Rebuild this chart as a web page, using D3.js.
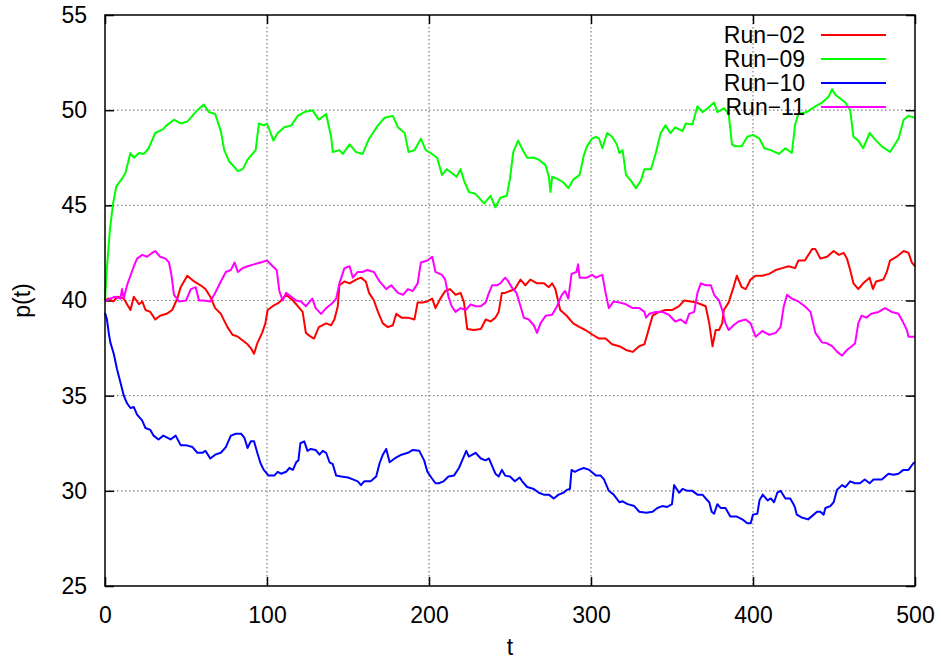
<!DOCTYPE html>
<html>
<head>
<meta charset="utf-8">
<script src="https://cdn.jsdelivr.net/npm/d3@7"></script>
<style>
  body { margin: 0; background: #fff; }
  svg text { font-family: "Liberation Sans", Arial, sans-serif; fill: #000; }
</style>
</head>
<body>
<div id="chart"></div>
<script>
// dati: [t, p(t)]
const run02 = [[0,40],[2,40.1],[5,39.95],[8,40.2],[11.6,40.1],[13.6,39.8],[15.7,39.5],[17.8,40.2],[21,39.8],[23,39.95],[25,39.5],[28,39.4],[31,39.0],[34,39.2],[38,39.3],[41.5,39.5],[44.6,40.1],[46.7,40.7],[50.8,41.3],[55,41.0],[59,40.8],[62,40.6],[65,40.2],[68,39.6],[71.5,39.3],[75.6,38.6],[78.7,38.2],[82,38.1],[85,37.9],[88,37.7],[90,37.5],[92,37.2],[94,37.75],[97,38.3],[99,38.8],[100.4,39.5],[103.5,39.7],[107.6,39.9],[111.8,40.3],[116,40.0],[119,39.7],[122,39.4],[124,38.3],[127,38.1],[129,38.0],[132,38.6],[136.5,38.8],[139.6,38.7],[141.6,39.0],[143.7,39.7],[144.7,40.8],[147.8,41.0],[151,40.9],[155,41.1],[158,41.2],[161,41.0],[163,40.4],[166,40.0],[168.5,39.4],[171.5,38.8],[174.6,38.6],[177.7,38.7],[179.8,39.3],[183,39.1],[187,39.1],[191,39.0],[193,39.9],[196,39.9],[199,39.95],[202,40.1],[204,39.6],[207,40.1],[210,40.5],[213,40.6],[216.4,40.3],[219.5,40.4],[221.6,39.9],[223.6,38.5],[227.7,38.45],[232,38.5],[235,39.0],[238,38.9],[241,39.1],[243,39.4],[245,40.4],[247,40.4],[250,40.5],[253,40.6],[256.5,41.1],[259.5,40.8],[262.6,41.1],[266.7,40.9],[271,40.9],[274,40.7],[276,40.9],[278,40.6],[281,39.5],[285,39.2],[289,38.8],[293,38.6],[296.5,38.45],[301,38.2],[305,38.0],[309,38.0],[313,37.7],[317.5,37.6],[321.6,37.4],[325.7,37.3],[329.8,37.6],[333,37.7],[336,38.6],[338,39.2],[342,39.4],[346,39.5],[350,39.5],[354.4,39.7],[357.5,40.0],[361.6,39.95],[364.7,39.9],[367.8,39.8],[370.8,39.7],[373,38.8],[375,37.6],[377,38.45],[379,38.45],[381,38.8],[382,39.5],[385,39.9],[388,40.7],[390,41.3],[393,40.7],[395.5,40.6],[398.5,41.1],[401.6,41.3],[405.7,41.3],[410,41.4],[414,41.6],[418,41.7],[422,41.8],[426,41.7],[428,42.1],[432,42.1],[436.5,42.7],[438.5,42.7],[441.6,42.2],[445.7,42.3],[449.8,42.6],[453,42.4],[456,42.5],[458,42.2],[460,41.6],[462,40.9],[465,40.6],[468,40.9],[472,41.2],[474,40.6],[476,41.0],[480.5,41.1],[482.6,41.5],[484.6,42.1],[488.7,42.3],[493,42.6],[496,42.5],[498,42.0],[500,41.8]];

const run09 = [[0,40],[1,41.5],[3,43.7],[5,45.1],[7,46.0],[10.5,46.4],[12.6,46.7],[15.7,47.75],[17.8,47.5],[21,47.75],[24,47.7],[27,48.0],[31,48.8],[36,49.0],[38,49.2],[42.6,49.5],[46.7,49.3],[50.8,49.4],[57,50.0],[61,50.3],[64,49.9],[68,49.8],[71.5,48.9],[73.6,47.9],[76.7,47.3],[80,47.0],[82,46.8],[85,46.9],[88,47.4],[93,47.9],[95,49.3],[98,49.2],[100,49.3],[104,48.4],[106.6,48.8],[110.7,49.1],[115,49.2],[119,49.7],[123,49.9],[128,50.0],[132,49.5],[136.5,49.8],[139.6,48.6],[140.6,47.8],[144.7,47.9],[146.8,47.7],[151,48.2],[155,47.8],[159,47.7],[163,48.5],[168.5,49.2],[172.6,49.6],[177.7,49.7],[180.8,49.1],[185,48.8],[187.4,47.8],[191,47.9],[195,48.5],[198,47.9],[201,47.75],[205,47.5],[208,46.6],[211,46.9],[214,46.7],[217,46.5],[219.5,46.9],[221.6,46.3],[224.6,45.7],[228.7,45.6],[234,45.1],[238,45.5],[241,44.9],[244,45.4],[248,45.5],[250,46.4],[252,47.8],[255,48.4],[258.5,47.8],[260.6,47.5],[264.7,47.5],[267.8,47.4],[272,47.1],[274,46.5],[275,45.7],[276,46.5],[279,46.4],[283,46.2],[286,45.9],[289,46.35],[293,46.6],[295.5,47.6],[297.5,48.1],[300.6,48.5],[303,48.6],[305,48.5],[307,48.0],[310,48.8],[313,48.6],[316,48.2],[317.5,47.75],[319.5,47.9],[321.6,46.6],[324.6,46.3],[327.7,45.9],[330.8,46.3],[333,46.9],[337,46.9],[340,47.75],[343,48.8],[346,49.2],[349,48.8],[352,49.1],[356.5,48.9],[358.5,49.3],[362.6,49.25],[365.7,50.2],[368.8,49.9],[372,50.1],[376,50.4],[378,49.9],[382,50.1],[385,49.8],[387,48.2],[389,48.1],[393,48.1],[396.5,48.6],[400,48.7],[404,48.5],[407,48.0],[411,47.9],[416,47.7],[420,48.0],[424,47.75],[426,49.25],[428,49.8],[433,49.9],[438.5,50.2],[442.6,50.4],[446.7,50.7],[448.8,51.1],[451,50.8],[457,50.4],[460,50.0],[462,48.6],[465,48.4],[468,48.0],[472,48.8],[476,48.4],[479.5,48.1],[484.6,47.8],[489.8,48.5],[493,49.5],[496,49.7],[500,49.6]];

const run10 = [[0,39.35],[1.2,39.0],[2.3,38.3],[3.3,37.8],[5.4,37.2],[7.4,36.4],[9.5,35.7],[11.6,35.0],[13.6,34.6],[15.7,34.35],[17.8,34.4],[19.8,34.0],[22.9,33.7],[25,33.3],[28,33.2],[30,32.9],[33,32.7],[36,32.9],[38.4,32.8],[40.5,32.7],[43.6,32.9],[46.7,32.4],[49.8,32.4],[54,32.3],[57,32.0],[60,32.0],[62,32.1],[65,31.7],[68,31.9],[71.5,32.0],[74.6,32.3],[77.7,32.9],[80.8,33.0],[84,33.0],[86,32.8],[88,32.25],[90,32.6],[92,32.6],[94,32.0],[96,31.45],[98,31.1],[101,30.8],[104.5,30.8],[106.6,31.0],[108.7,30.9],[111.8,31.0],[113.8,31.2],[116,31.1],[118,31.5],[119.4,31.6],[120.6,32.5],[123,32.6],[125,32.1],[127,32.2],[130,32.15],[132.4,31.9],[134.4,32.1],[136.5,32.0],[138.6,31.5],[140.6,31.4],[142.7,30.8],[145.8,30.75],[150,30.7],[153,30.6],[156,30.5],[158,30.3],[160,30.5],[164,30.5],[167.4,30.75],[169.5,31.45],[171.5,31.9],[173.6,32.2],[175.7,31.5],[178.8,31.7],[183,31.9],[187,32.0],[190,32.15],[194,32.1],[197,31.6],[199,31.0],[201.4,30.7],[204,30.4],[206,30.4],[209,30.5],[212,30.75],[215.4,30.8],[218.5,31.2],[220.5,31.6],[223,32.1],[224.6,31.8],[228.7,32.0],[232,31.7],[235,31.6],[237,31.7],[239,31.3],[241,30.9],[243,30.75],[245,31.1],[247,30.8],[250,30.75],[253,30.5],[256,30.7],[257.5,30.5],[260.6,30.2],[264.7,30.1],[267.8,29.9],[270.8,29.8],[274,29.8],[277,29.6],[280,29.8],[283,29.9],[285,30.05],[287,30.1],[288,31.1],[290,31.0],[292.4,31.1],[295.5,31.2],[299,31.1],[303,30.8],[306,30.8],[308,30.6],[311,30.0],[314,29.8],[317.5,29.4],[319.5,29.45],[322.6,29.3],[326.7,29.2],[329.8,28.9],[334,28.85],[338,28.9],[341,29.1],[344,29.2],[347,29.15],[350,29.3],[351.3,30.3],[354.4,29.9],[356.5,30.1],[359.5,30.0],[362.6,30.0],[365.7,29.8],[368.8,29.8],[370.8,29.6],[373,29.4],[374.5,28.9],[376,28.8],[378,29.3],[380,29.1],[383,29.1],[386,28.65],[390,28.65],[393.4,28.5],[396.5,28.3],[398.6,28.3],[400,28.75],[402.7,28.8],[404,29.5],[406,29.8],[409,29.5],[411,29.6],[413,29.4],[415,29.9],[417,30.0],[420,29.6],[423,29.6],[425,29.3],[426,29.1],[427,28.75],[430,28.6],[434,28.5],[437.5,28.75],[439.5,28.9],[441.6,28.9],[443.6,28.75],[444.7,29.1],[447.7,29.2],[449.8,29.4],[451.8,30.05],[455,30.3],[457,30.2],[460,30.5],[463,30.4],[466,30.4],[469,30.6],[472,30.4],[474.4,30.6],[479.5,30.6],[483.6,30.9],[486.7,30.85],[489.8,30.9],[492.8,31.1],[496,31.1],[499,31.45],[500,31.5]];

const run11 = [[0,40],[1,40.0],[3,40.1],[6.4,40.2],[9.5,40.1],[10.5,40.6],[11.6,40.1],[13.6,40.8],[15.7,41.3],[17.8,41.8],[19.8,42.2],[23,42.4],[26,42.3],[29,42.5],[31,42.6],[34,42.3],[37.4,42.2],[39.5,42.0],[41,41.35],[42.6,40.3],[45.7,39.95],[50,40.0],[53,40.6],[56,40.7],[58,40.0],[61,40.0],[65,39.95],[68,40.4],[71.5,41.0],[74.6,41.5],[77.7,41.6],[80,42.0],[82,41.5],[85,41.7],[88,41.8],[92,41.9],[96,42.0],[100,42.1],[103.5,41.8],[106,41.6],[107.6,40.5],[109.7,40.0],[111.8,40.4],[115,40.2],[118,40.0],[121,39.95],[124,39.7],[128,40.1],[130,39.6],[133.4,39.3],[136.5,39.6],[139.6,39.8],[142.7,40.1],[144.7,40.9],[147.8,41.7],[151,41.8],[153,41.2],[156,41.5],[159,41.5],[162,41.6],[166,41.5],[169.5,41.0],[173.6,40.6],[176.7,40.8],[180.8,40.4],[184,40.3],[187,40.6],[190,40.5],[193,40.9],[195,42.0],[199,42.1],[202,42.3],[204,41.5],[208,41.35],[210,41.1],[212,40.2],[214,39.7],[216.4,39.4],[219.5,39.6],[222.6,39.5],[225.7,39.8],[228.7,39.7],[232,39.7],[235,39.9],[237,40.4],[239,40.8],[242,40.8],[244,40.9],[247,41.2],[249,41.0],[251,40.7],[254,40.4],[256.5,39.7],[258.5,39.1],[261.6,39.0],[264.7,38.7],[266.7,38.3],[268.8,38.8],[272,39.2],[276,39.25],[279,39.7],[282,40.3],[284,40.5],[286,40.1],[288,41.4],[291,41.5],[292,41.9],[293,41.2],[297.5,41.2],[300.6,41.35],[303,41.2],[307,41.35],[309,40.4],[311,39.6],[314,39.95],[317.5,39.9],[321.6,39.8],[325.7,39.6],[329.8,39.6],[333,39.4],[334,39.1],[336,39.3],[340,39.4],[344,39.4],[348,39.25],[352,38.9],[355.4,39.0],[358.5,38.8],[360.6,39.3],[363.7,39.4],[365.7,40.4],[367.8,40.9],[370.8,40.8],[374,40.8],[376,40.3],[379,40.0],[381,39.5],[383,38.8],[385,38.45],[388,38.7],[391,38.9],[395.5,39.0],[398.5,38.8],[401.6,38.1],[405.7,38.4],[410,38.2],[414,38.3],[417,38.6],[419,39.7],[421,40.3],[424,40.1],[428,39.95],[432,39.7],[435.5,39.4],[438.5,38.3],[442.6,37.8],[445.7,37.75],[448.8,37.6],[452,37.3],[455,37.1],[458,37.4],[461,37.6],[463,37.75],[465,38.8],[467,39.2],[470,39.1],[473,39.3],[477.5,39.4],[481.5,39.6],[485.7,39.4],[489.8,39.3],[493,38.8],[495,38.45],[496,38.1],[500,38.1]];

const seriesNames = ['Run\u221202', 'Run\u221209', 'Run\u221210', 'Run\u221211'];
const seriesColors = ['#ff0000', '#00ff00', '#0000ff', '#ff00ff'];
const seriesData = [run02, run09, run10, run11];

const xTicks = [0, 100, 200, 300, 400, 500];
const yTicks = [25, 30, 35, 40, 45, 50, 55];

const W = 941, H = 660;
const margin = { top: 15, right: 26, bottom: 74, left: 105 };
const width = W - margin.left - margin.right;
const height = H - margin.top - margin.bottom;
const fontSize = 23;

const svg = d3.select('#chart').append('svg')
    .attr('width', W)
    .attr('height', H);

const g = svg.append('g')
    .attr('transform', `translate(${margin.left},${margin.top})`);

const x = d3.scaleLinear().domain([0, 500]).range([0, width]);
const y = d3.scaleLinear().domain([25, 55]).range([height, 0]);

// griglia tratteggiata
g.append('g')
    .selectAll('line')
    .data(xTicks.slice(1, -1))
    .join('line')
    .attr('x1', d => x(d)).attr('x2', d => x(d))
    .attr('y1', 0).attr('y2', height)
    .attr('stroke', '#808080').attr('stroke-width', 1.2)
    .attr('stroke-dasharray', '1.5,2.5');

g.append('g')
    .selectAll('line')
    .data(yTicks.slice(1, -1))
    .join('line')
    .attr('x1', 0).attr('x2', width)
    .attr('y1', d => y(d)).attr('y2', d => y(d))
    .attr('stroke', '#808080').attr('stroke-width', 1.2)
    .attr('stroke-dasharray', '1.5,2.5');

// assi (tick verso l'interno, speculari)
const tickLen = 9;
g.append('g')
    .attr('transform', `translate(0,${height})`)
    .call(d3.axisBottom(x).tickValues(xTicks).tickSizeInner(-tickLen).tickSizeOuter(0).tickPadding(tickLen + 12))
    .call(a => a.select('.domain').remove());
g.append('g')
    .call(d3.axisTop(x).tickValues(xTicks).tickSizeInner(-tickLen).tickSizeOuter(0).tickFormat(''))
    .call(a => a.select('.domain').remove());
g.append('g')
    .call(d3.axisLeft(y).tickValues(yTicks).tickSizeInner(-tickLen).tickSizeOuter(0).tickPadding(tickLen + 9))
    .call(a => a.select('.domain').remove());
g.append('g')
    .attr('transform', `translate(${width},0)`)
    .call(d3.axisRight(y).tickValues(yTicks).tickSizeInner(-tickLen).tickSizeOuter(0).tickFormat(''))
    .call(a => a.select('.domain').remove());

g.selectAll('.tick line').attr('stroke', '#000').attr('stroke-width', 1.5);
g.selectAll('.tick text')
    .attr('font-family', '"Liberation Sans", Arial, sans-serif')
    .attr('font-size', fontSize);

// linee + legenda
const line = d3.line().x(d => x(d[0])).y(d => y(d[1]));
const legendX = 805 - margin.left;
const legendY0 = 35 - margin.top;
const legendStep = 24;

seriesData.forEach((data, i) => {
    const ly = legendY0 + i * legendStep;
    g.append('text')
        .attr('x', legendX)
        .attr('y', ly)
        .attr('dy', '0.35em')
        .attr('text-anchor', 'end')
        .attr('font-size', fontSize)
        .text(seriesNames[i]);
    g.append('line')
        .attr('x1', legendX + 16).attr('x2', legendX + 81)
        .attr('y1', ly).attr('y2', ly)
        .attr('stroke', seriesColors[i]).attr('stroke-width', 2);
    g.append('path')
        .datum(data)
        .attr('fill', 'none')
        .attr('stroke', seriesColors[i])
        .attr('stroke-width', 2)
        .attr('stroke-linejoin', 'round')
        .attr('d', line);
});

// bordo
g.append('rect')
    .attr('width', width).attr('height', height)
    .attr('fill', 'none').attr('stroke', '#000').attr('stroke-width', 1.5);

// etichette assi
svg.append('text')
    .attr('transform', `translate(22,${margin.top + height / 2}) rotate(-90)`)
    .attr('text-anchor', 'middle')
    .attr('dy', '0.35em')
    .attr('font-size', fontSize)
    .text('p(t)');

svg.append('text')
    .attr('x', margin.left + width / 2)
    .attr('y', 647)
    .attr('text-anchor', 'middle')
    .attr('dy', '0.35em')
    .attr('font-size', fontSize)
    .text('t');
</script>
</body>
</html>
